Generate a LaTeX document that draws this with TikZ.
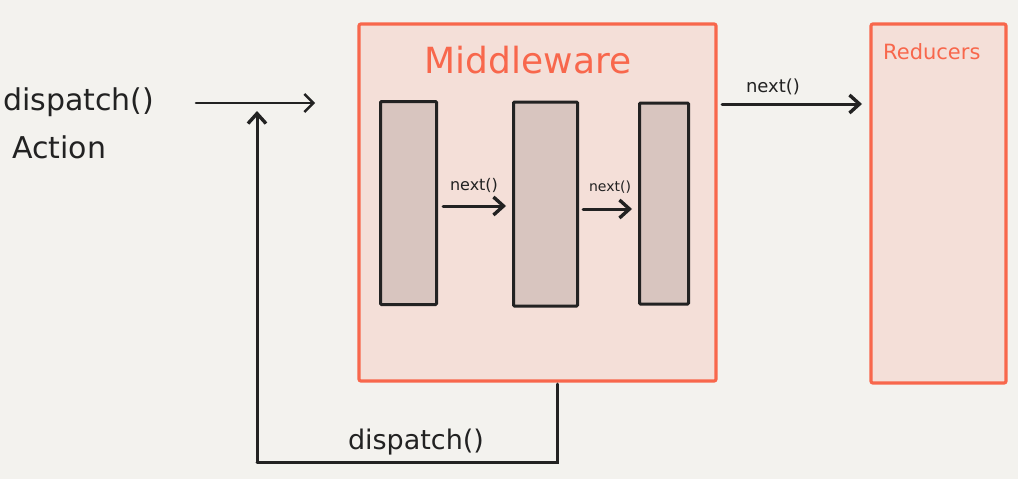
\documentclass[tikz,border=0pt]{standalone}
\usepackage{fontspec}
\setmainfont{DejaVu Sans}
\usetikzlibrary{arrows.meta}
\definecolor{bg}{HTML}{F3F2EE}
\definecolor{redline}{HTML}{F8674C}
\definecolor{redfill}{HTML}{F4DFD8}
\definecolor{midfill}{HTML}{D8C5BF}
\definecolor{ink}{HTML}{222222}
\tikzset{
  bigbox/.style={draw=redline, fill=redfill, line width=3.2pt, rounded corners=2pt},
  mwbox/.style={draw=ink, fill=midfill, line width=3pt, rounded corners=1pt},
  conn/.style={draw=ink, line width=3pt, line cap=round,
     -{Straight Barb[length=10pt, width=18pt, line width=3.4pt]}},
  thinconn/.style={draw=ink, line width=2.6pt, line cap=round,
     -{Straight Barb[length=9pt, width=18pt, line width=2.4pt]}},
  plain/.style={draw=ink, line width=3pt, line cap=round},
  lbl/.style={text=ink, inner sep=0pt},
}
\begin{document}
\begin{tikzpicture}[x=1pt,y=-1pt]
\fill[bg] (0,0) rectangle (1018,479);
\useasboundingbox (0,0) rectangle (1018,479);
% big boxes
\draw[bigbox] (359,24) rectangle (716,381);
\draw[bigbox] (871,24) rectangle (1006,383);
\node[lbl, text=redline, font=\fontsize{36}{40}\selectfont, anchor=base] (mwlabel) at (528,73) {Middleware};
\node[lbl, text=redline, font=\fontsize{21}{24}\selectfont, anchor=base west] (redlabel) at (883,59) {Reducers};
% middleware boxes
\node[mwbox, minimum width=56pt, minimum height=203pt, inner sep=0pt] (m1) at (408.5,203) {};
\node[mwbox, minimum width=64pt, minimum height=204pt, inner sep=0pt] (m2) at (545.5,204) {};
\node[mwbox, minimum width=49pt, minimum height=201pt, inner sep=0pt] (m3) at (664,203.5) {};
% inner arrows
\draw[conn] (m1.east |- 0,206) ++(5,0) coordinate (a1s) -- ([xshift=-6pt]m2.west |- a1s);
\node[lbl, font=\fontsize{16}{18}\selectfont, anchor=base] (n1) at (474,190) {next()};
\draw[conn] (m2.east |- 0,209) ++(4,0) coordinate (a2s) -- ([xshift=-6pt]m3.west |- a2s);
\node[lbl, font=\fontsize{14}{16}\selectfont, anchor=base] (n2) at (610,191) {next()};
% top arrow to reducers
\coordinate (ts) at (722,104);
\draw[conn] (ts) -- ([xshift=-9pt]ts -| 871,0);
\node[lbl, font=\fontsize{18}{20}\selectfont, anchor=base] (n3) at (773,92) {next()};
% dispatch action
\node[lbl, font=\fontsize{30}{32}\selectfont, anchor=base west] (disp) at (3,110) {dispatch()};
\node[lbl, font=\fontsize{30}{32}\selectfont, anchor=base west] (act) at (12,158) {Action};
\coordinate (ds) at (196,103);
\coordinate (de) at (315,103);
\draw[thinconn] (ds) -- (de);
% feedback loop
\coordinate (fb1) at (557,384);
\coordinate (fb2) at (557,462);
\coordinate (fb3) at (257,462);
\coordinate (fb4) at (257,111);
\draw[plain] (fb1) -- (fb2) -- (fb3);
\draw[conn] (fb3) -- (fb4);
\node[lbl, font=\fontsize{27}{30}\selectfont, anchor=base] (disp2) at (416,449) {dispatch()};
\end{tikzpicture}
\end{document}
